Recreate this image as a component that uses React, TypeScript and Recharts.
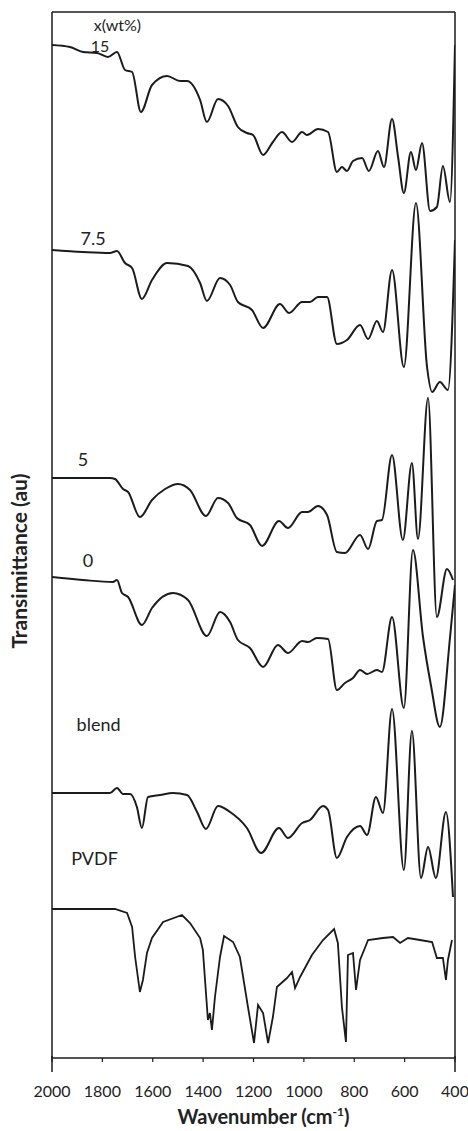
import React from "react";
import { LineChart, Line, XAxis, YAxis, ReferenceLine, ReferenceDot } from "recharts";

// [wavenumber cm-1, transmittance (au, offset stacked)]
const curve15 = [
  [2000, 1013], [1929, 1011], [1877, 1006], [1821, 1005], [1778, 1001], [1742, 1006],
  [1710, 988], [1682, 986], [1647, 946], [1603, 973], [1543, 982], [1492, 977],
  [1464, 977], [1412, 958], [1385, 936], [1341, 959], [1301, 952], [1262, 931],
  [1226, 925], [1202, 923], [1162, 903], [1123, 916], [1087, 926], [1047, 916],
  [1007, 926], [988, 923], [944, 929], [904, 926], [869, 886], [849, 891], [829, 887],
  [805, 897], [769, 900], [742, 887], [706, 907], [682, 891], [650, 939], [626, 901],
  [603, 865], [575, 906], [555, 888], [531, 915], [499, 847], [472, 851], [448, 892],
  [420, 856], [400, 1013],
];

const curve7_5 = [
  [2000, 808], [1877, 806], [1770, 805], [1742, 807], [1710, 795], [1682, 790],
  [1643, 759], [1603, 778], [1543, 795], [1460, 792], [1412, 775], [1385, 757],
  [1333, 780], [1293, 773], [1262, 756], [1206, 748], [1162, 730], [1095, 754],
  [1059, 745], [1007, 756], [976, 756], [944, 761], [908, 761], [869, 714], [829, 718],
  [777, 733], [745, 719], [710, 737], [686, 726], [650, 788], [603, 691], [555, 855],
  [511, 691], [491, 666], [460, 676], [428, 668], [400, 818],
];

const curve5 = [
  [2000, 580], [1770, 580], [1750, 579], [1718, 569], [1698, 566], [1651, 541],
  [1603, 558], [1551, 569], [1500, 574], [1452, 568], [1389, 542], [1341, 560],
  [1301, 555], [1266, 540], [1214, 533], [1166, 512], [1099, 537], [1063, 530],
  [1007, 546], [984, 546], [944, 552], [908, 543], [869, 506], [837, 505], [777, 523],
  [745, 509], [710, 537], [690, 538], [650, 603], [607, 518], [571, 595], [547, 519],
  [507, 660], [472, 441], [432, 489], [408, 478],
];

const curve0 = [
  [2000, 481], [1877, 478], [1758, 476], [1742, 478], [1722, 465], [1698, 461],
  [1643, 433], [1603, 450], [1520, 465], [1460, 458], [1385, 422], [1333, 446],
  [1293, 436], [1262, 418], [1214, 410], [1162, 391], [1103, 413], [1063, 405],
  [1007, 417], [984, 416], [948, 420], [904, 419], [869, 368], [837, 375], [805, 380],
  [777, 388], [749, 384], [710, 388], [690, 386], [650, 441], [603, 350], [567, 508],
  [527, 421], [495, 372], [460, 331], [420, 420], [400, 473],
];

const curveBlend = [
  [2000, 265], [1770, 265], [1742, 270], [1718, 264], [1690, 264], [1663, 251],
  [1643, 230], [1619, 261], [1571, 263], [1520, 265], [1464, 263], [1424, 246],
  [1389, 229], [1341, 252], [1293, 246], [1226, 230], [1170, 205], [1099, 230],
  [1063, 220], [1007, 235], [976, 238], [924, 252], [904, 248], [869, 200], [829, 221],
  [777, 232], [749, 223], [714, 261], [686, 245], [650, 349], [603, 188], [571, 327],
  [535, 180], [507, 211], [476, 180], [436, 246], [408, 161],
];

const curvePVDF = [
  [2000, 149], [1750, 149], [1702, 145], [1682, 131], [1670, 101], [1651, 66],
  [1639, 78], [1623, 105], [1603, 120], [1559, 136], [1484, 143], [1452, 135],
  [1412, 120], [1401, 108], [1381, 38], [1373, 45], [1365, 28], [1353, 61], [1333, 101],
  [1317, 122], [1281, 116], [1254, 101], [1222, 51], [1198, 15], [1182, 53], [1162, 45],
  [1142, 15], [1123, 41], [1107, 71], [1067, 80], [1047, 86], [1035, 70], [1015, 81],
  [968, 103], [924, 118], [880, 129], [865, 115], [849, 51], [833, 16], [825, 103],
  [805, 105], [793, 68], [777, 98], [745, 118], [686, 120], [646, 121], [618, 115],
  [587, 120], [539, 118], [491, 116], [472, 100], [448, 100], [436, 78], [428, 98],
  [412, 118],
];

const wnTicks = [2000, 1800, 1600, 1400, 1200, 1000, 800, 600, 400];

const curveLabels = ["x(wt%)", "15", "7.5", "5", "0", "blend", "PVDF"];

const toPts = (a: number[][]) => a.map(([wn, t]) => ({ wn, t }));

const series = [curve15, curve7_5, curve5, curve0, curveBlend];

const INK = "#1b1b1b";
const FONT = "Lato, 'Noto Sans', sans-serif";

function WnTick(props: any) {
  const { x, y, payload } = props;
  const edge = payload.value === 2000 || payload.value === 400;
  return (
    <g>
      {edge && <line x1={x} x2={x} y1={y - 8} y2={y + 8} stroke={INK} strokeWidth={1.5} />}
      <text x={x} y={y + 33} textAnchor="middle" fontFamily={FONT} fontSize={16} fill="#222">
        {payload.value}
      </text>
    </g>
  );
}

const xTitle = (props: any) => {
  const vb = props.viewBox;
  return (
    <text x={vb.x + vb.width / 2 + 10} y={vb.y + 66} textAnchor="middle" fontFamily={FONT} fontWeight={700} fontSize={20} fill="#222">
      Wavenumber (cm<tspan dy={-8} fontSize={12}>-1</tspan><tspan dy={8}>)</tspan>
    </text>
  );
};

const yTitle = () => (
  <text x={27} y={561} transform="rotate(-90, 27, 561)" textAnchor="middle" fontFamily={FONT} fontWeight={700} fontSize={21} fill="#222">
    Transimittance (au)
  </text>
);

const labelAt = [
  [1740, 1033], [1809, 1012], [1837, 819], [1877, 598], [1857, 497], [1815, 333], [1831, 199],
];

export default function App() {
  return (
    <div style={{ width: 468, height: 1131, background: "#fff" }}>
      <style>{"body{margin:0}"}</style>
      <LineChart width={468} height={1131} margin={{ top: 12, right: 13, bottom: 0, left: 0 }}>
        <XAxis
          type="number"
          dataKey="wn"
          domain={[400, 2000]}
          reversed
          ticks={wnTicks}
          interval={0}
          height={73}
          allowDataOverflow
          axisLine={{ stroke: INK, strokeWidth: 1.5 }}
          tickLine={{ stroke: INK, strokeWidth: 1.2 }}
          tickSize={4}
          tickMargin={2}
          tick={<WnTick />}
          label={xTitle}
        />
        <YAxis
          type="number"
          dataKey="t"
          domain={[0, 1046]}
          width={52}
          allowDataOverflow
          axisLine={{ stroke: INK, strokeWidth: 1.5 }}
          tick={false}
          tickLine={false}
          label={yTitle}
        />
        <ReferenceLine y={1046} stroke={INK} strokeWidth={1.5} />
        <ReferenceLine x={400} stroke={INK} strokeWidth={1.5} />
        {series.map((s, i) => (
          <Line
            key={i}
            data={toPts(s)}
            dataKey="t"
            type="monotone"
            stroke={INK}
            strokeWidth={2}
            dot={false}
            isAnimationActive={false}
          />
        ))}
        <Line
          data={toPts(curvePVDF)}
          dataKey="t"
          type="linear"
          stroke={INK}
          strokeWidth={1.8}
          dot={false}
          isAnimationActive={false}
        />
        {curveLabels.map((txt, i) => (
          <ReferenceDot
            key={txt}
            x={labelAt[i][0]}
            y={labelAt[i][1]}
            r={0}
            fill="none"
            stroke="none"
            label={{ value: txt, position: "center", fontSize: i < 2 ? 16 : 18, fill: "#222", fontFamily: FONT }}
          />
        ))}
      </LineChart>
    </div>
  );
}
